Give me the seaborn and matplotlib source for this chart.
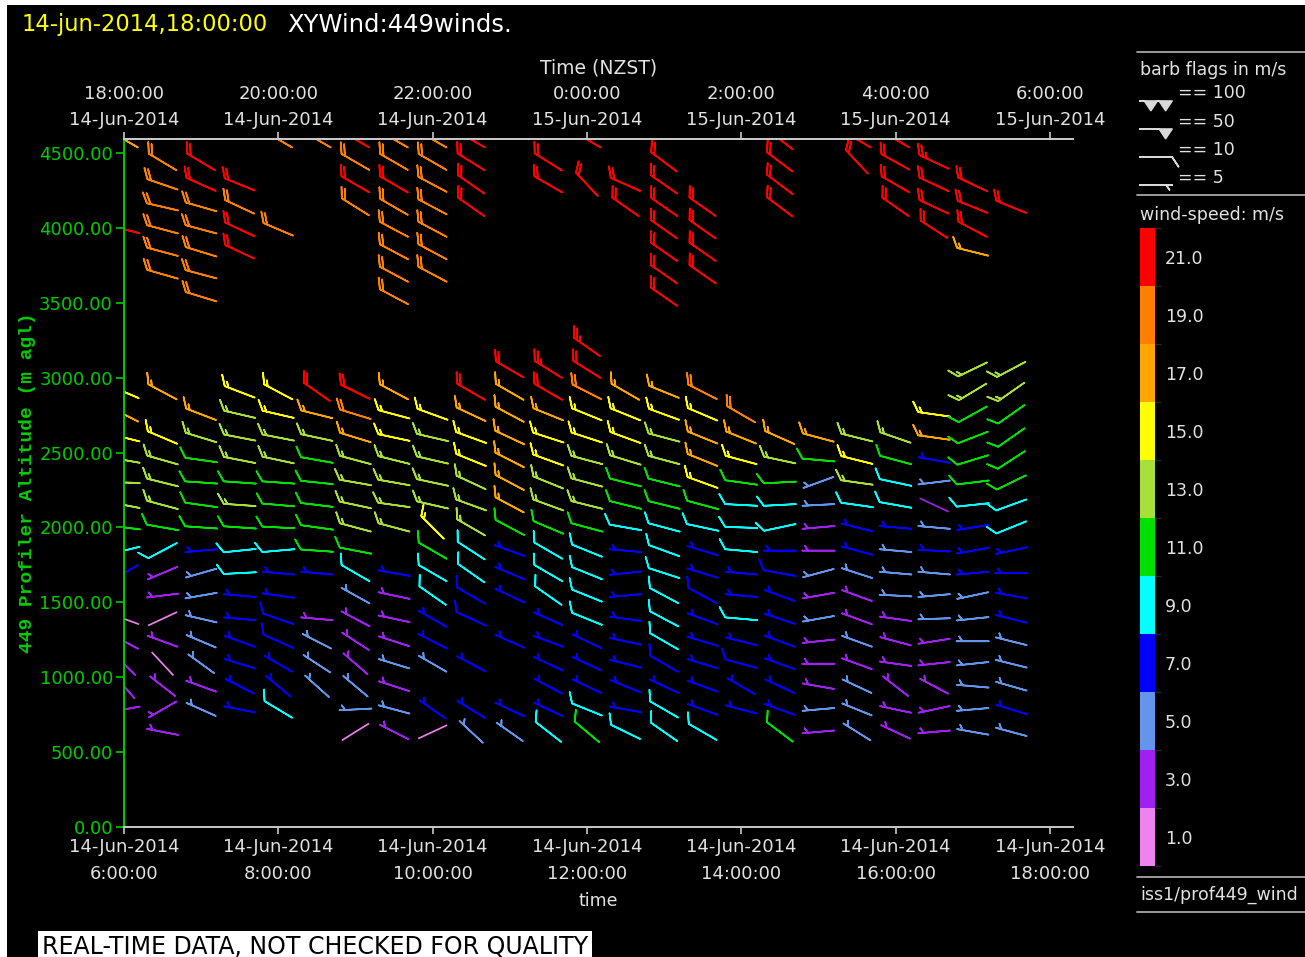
import numpy as np
import pandas as pd
import matplotlib
matplotlib.use("Agg")
import matplotlib.pyplot as plt
import seaborn as sns
from matplotlib.colors import ListedColormap, BoundaryNorm
from matplotlib.lines import Line2D
from matplotlib.patches import Rectangle
from matplotlib.cm import ScalarMappable

# ---------------------------------------------------------------------------
# 449 MHz profiler winds, 14-Jun-2014 (hours of day, local time)
# ---------------------------------------------------------------------------
times = [6.0, 6.5, 7.0, 7.5, 8.0, 8.5, 9.0, 9.5, 10.0, 10.5, 11.0, 11.5,
         12.0, 12.5, 13.0, 13.5, 14.0, 14.5, 15.0, 15.5, 16.0, 16.5, 17.0, 17.5]

# each profile: (altitude m agl, speed m/s, direction deg)
c0600 = [(785, 3, 260), (940, 3, 319), (1090, 3, 315), (1240, 3, 298), (1390, 1.5, 290),
         (1695, 7, 240), (1845, 9, 256), (2000, 11, 277), (2150, 13, 281), (2300, 13, 272),
         (2450, 13, 280), (2600, 15, 284), (2755, 17, 297), (2905, 15, 293),
         (3990, 21, 284), (4590, 17, 300)]
c0630 = [(635, 3, 281), (785, 3, 240), (940, 3, 308), (1090, 1.5, 317), (1240, 3, 290),
         (1390, 1.5, 245), (1545, 3, 263), (1695, 3, 247), (1845, 9, 242), (2000, 11, 280),
         (2150, 13, 285), (2300, 13, 284), (2450, 13, 286), (2600, 15, 293), (2905, 17, 298),
         (3690, 18.5, 286), (3840, 18.5, 285), (3990, 18.5, 285), (4140, 18.5, 283),
         (4290, 18.5, 289), (4440, 18.5, 301)]
c0700 = [(785, 5, 294), (940, 3, 290), (1090, 5, 306), (1240, 5, 293), (1390, 5, 283),
         (1545, 5, 260), (1695, 5, 254), (1845, 7, 265), (2000, 11, 274), (2150, 11, 278),
         (2300, 11, 274), (2450, 11, 278), (2600, 13, 287), (2755, 17, 291),
         (3540, 18.5, 287), (3690, 18.5, 285), (3840, 18.5, 287), (3990, 18.5, 285),
         (4140, 18.5, 286), (4290, 21, 294), (4440, 21, 301)]
c0730 = [(785, 7, 281), (940, 7, 297), (1090, 7, 287), (1240, 7, 290), (1390, 7, 275),
         (1545, 7, 275), (1695, 9, 267), (1845, 9, 264), (2000, 11, 274), (2150, 13, 274),
         (2300, 11, 274), (2450, 13, 281), (2600, 13, 281), (2755, 13, 283), (2905, 15, 291),
         (3840, 21, 295), (3990, 21, 295), (4140, 18.5, 295), (4290, 21, 292)]
c0800 = [(785, 9, 301), (940, 7, 310), (1090, 7, 300), (1240, 7.8, 294), (1390, 7.8, 289),
         (1545, 7, 278), (1695, 7, 275), (1845, 9, 265), (2000, 11, 273), (2150, 11, 275),
         (2300, 11, 274), (2450, 13, 282), (2600, 13, 281), (2755, 15, 283), (2905, 15, 298),
         (3990, 18.5, 293), (4590, 18.5, 300)]
c0830 = [(940, 5, 312), (1090, 5, 303), (1240, 5, 297), (1390, 3, 275),
         (1695, 7, 275), (1845, 11, 274), (2000, 11, 278), (2150, 11, 277), (2300, 11, 276),
         (2450, 11, 280), (2600, 13, 282), (2755, 17, 284), (2905, 21, 305),
         (4590, 18.5, 300)]
c0900 = [(635, 1.5, 238), (785, 5, 267), (940, 5, 310), (1090, 3, 311), (1240, 3, 303),
         (1390, 3, 298), (1545, 5, 299), (1695, 9, 300), (1845, 11, 281), (2000, 13, 285),
         (2150, 13, 282), (2300, 13, 280), (2450, 13, 285), (2600, 17, 287), (2755, 18.5, 287),
         (2905, 21, 296),
         (4140, 18.5, 302), (4290, 21, 300), (4440, 18.5, 300), (4590, 21, 300)]
c0930 = [(635, 3, 297), (785, 5, 285), (940, 3, 288), (1090, 5, 287), (1240, 3, 288),
         (1390, 3, 282), (1545, 3, 282), (1695, 7, 280), (2000, 13, 285), (2150, 13, 278),
         (2300, 13, 280), (2450, 13, 284), (2600, 15, 282), (2755, 15, 285), (2905, 17, 298),
         (3540, 18.5, 298), (3690, 18.5, 298), (3840, 18.5, 298), (3990, 18.5, 298),
         (4140, 18.5, 300), (4290, 21, 300), (4440, 18.5, 300), (4590, 18.5, 300)]
c1000 = [(635, 1.5, 245), (785, 7, 305), (1090, 5, 300), (1240, 7, 297), (1390, 7, 300),
         (1545, 9, 305), (1695, 9, 300), (1845, 11, 300), (2000, 15, 315), (2150, 13, 283),
         (2300, 13, 282), (2450, 13, 283), (2600, 13, 283), (2755, 15, 290),
         (3690, 18.5, 298), (3840, 18.5, 298), (3990, 18.5, 298), (4140, 18.5, 298),
         (4290, 18.5, 298), (4440, 18.5, 300), (4590, 18.5, 300)]
c1030 = [(635, 5, 313), (785, 7, 302), (1090, 7, 298), (1390, 7.8, 295), (1545, 7.8, 300),
         (1695, 9, 305), (1845, 9, 303), (2000, 13, 300), (2150, 13, 290), (2300, 13, 295),
         (2450, 15, 292), (2600, 15, 290), (2755, 17, 295), (2905, 21, 300),
         (4140, 21, 305), (4290, 21, 305), (4440, 21, 302), (4590, 21, 300)]
c1100 = [(635, 5, 305), (785, 7, 295), (1240, 7, 294), (1545, 7, 295),
         (1695, 7, 293), (1845, 7, 290), (2000, 11, 298), (2150, 17, 298), (2300, 17, 298),
         (2450, 17, 297), (2600, 17, 295), (2755, 17, 298), (2905, 17, 300), (3055, 21, 300)]
c1130 = [(635, 9, 308), (785, 7, 295), (940, 7, 298), (1090, 7, 295), (1240, 7, 290),
         (1390, 7, 294), (1545, 9, 305), (1695, 9, 300), (1845, 9, 300), (2000, 11, 293),
         (2150, 13, 290), (2300, 13, 292), (2450, 15, 290), (2600, 15, 288), (2755, 17, 292),
         (2905, 21, 300), (3055, 23, 302),
         (4290, 21, 300), (4440, 21, 302)]
c1200 = [(635, 11, 310), (785, 9, 292), (940, 7, 295), (1090, 7, 295), (1240, 7, 295),
         (1390, 9, 292), (1545, 9, 292), (1695, 9, 292), (1845, 9, 292), (2000, 11, 285),
         (2150, 13, 284), (2300, 13, 285), (2450, 13, 285), (2600, 15, 288), (2755, 15, 292),
         (2905, 18.5, 297), (3055, 21, 302), (3205, 23, 305),
         (4290, 21, 317), (4590, 21, 300)]
c1230 = [(635, 9, 296), (785, 7, 280), (940, 7, 292), (1090, 7, 284), (1240, 7, 282),
         (1390, 7, 278), (1545, 7, 265), (1695, 7, 264), (1845, 7, 275), (2000, 9, 280),
         (2150, 11, 284), (2300, 11, 284), (2450, 13, 287), (2600, 15, 290), (2755, 15, 292),
         (2905, 17, 300),
         (4140, 21, 305), (4290, 21, 294)]
c1300 = [(635, 9, 305), (785, 9, 300), (940, 7, 295), (1090, 7.8, 300), (1240, 9, 300),
         (1390, 9, 298), (1545, 9, 298), (1695, 9, 288), (1845, 9, 290), (2000, 9, 285),
         (2150, 11, 284), (2300, 11, 284), (2450, 13, 285), (2600, 13, 285), (2755, 15, 290),
         (2905, 17, 292),
         (3540, 21, 305), (3690, 21, 305), (3840, 21, 305), (3990, 21, 305), (4140, 21, 305),
         (4290, 21, 305), (4440, 21, 307)]
c1330 = [(635, 9, 300), (785, 7, 290), (940, 7, 290), (1090, 7, 287), (1240, 7, 287),
         (1390, 7, 290), (1545, 7.8, 298), (1695, 7, 287), (1845, 7, 287), (2000, 9, 282),
         (2150, 11, 285), (2300, 15, 290), (2450, 17, 292), (2600, 17, 292), (2755, 15, 293),
         (2905, 18.5, 297),
         (3690, 21, 305), (3840, 21, 305), (3990, 21, 305), (4140, 21, 305)]
c1400 = [(785, 7, 285), (940, 7, 300), (1090, 7.8, 285), (1240, 7, 284), (1390, 9, 275),
         (1545, 7, 275), (1695, 7, 275), (1845, 9, 275), (2000, 9, 272), (2150, 9, 273),
         (2300, 11, 278), (2450, 15, 285), (2600, 17, 292), (2755, 18.5, 300)]
c1430 = [(635, 11, 307), (785, 7, 290), (940, 7, 295), (1090, 7, 290), (1240, 7, 290),
         (1390, 7, 288), (1545, 7, 290), (1695, 7.8, 280), (1845, 7, 270), (2000, 9, 258),
         (2150, 9, 267), (2300, 11, 267), (2450, 13, 282), (2600, 17, 294),
         (4140, 21, 307), (4290, 21, 307), (4440, 21, 307), (4590, 21, 307)]
c1500 = [(635, 3, 265), (785, 5, 265), (940, 3, 280), (1090, 3, 270), (1240, 3, 264),
         (1390, 5, 260), (1545, 3, 260), (1695, 5, 255), (1845, 3, 270), (2000, 3, 265),
         (2150, 5, 267), (2300, 5, 250), (2450, 11, 275), (2600, 17, 285)]
c1530 = [(635, 5, 302), (785, 5, 292), (940, 5, 295), (1090, 3, 290), (1240, 5, 290),
         (1390, 3, 290), (1545, 3, 290), (1695, 5, 288), (1845, 7, 285), (2000, 7, 284),
         (2150, 9, 278), (2300, 13, 278), (2450, 15, 284), (2600, 13, 284),
         (4440, 21, 317), (4590, 21, 300)]
c1600 = [(635, 3, 295), (785, 3, 282), (940, 3, 308), (1090, 3, 278), (1240, 3, 285),
         (1390, 3, 278), (1545, 5, 273), (1695, 5, 275), (1845, 5, 275), (2000, 7, 275),
         (2150, 9, 280), (2300, 9, 282), (2450, 11, 285), (2600, 13, 289),
         (4140, 21, 305), (4290, 21, 300), (4440, 21, 299), (4590, 21, 300)]
c1630 = [(635, 3, 265), (785, 3, 258), (940, 3, 298), (1090, 3, 264), (1240, 3, 261),
         (1390, 5, 268), (1545, 5, 265), (1695, 5, 275), (1845, 7, 273), (2000, 5, 275),
         (2150, 2.2, 295), (2300, 5, 263), (2450, 7, 280), (2600, 17, 278), (2755, 15, 278),
         (3990, 21, 303), (4140, 21, 295), (4290, 21, 295), (4440, 23, 295)]
c1700 = [(635, 5, 280), (785, 5, 265), (940, 5, 275), (1090, 5, 264), (1240, 5, 270),
         (1390, 5, 264), (1545, 5, 258), (1695, 7, 265), (1845, 7, 260), (2000, 7, 261),
         (2150, 9, 264), (2300, 11, 263), (2450, 11, 253), (2600, 11, 249), (2755, 11, 241),
         (2905, 13, 239), (3055, 13, 244),
         (3840, 17, 284), (3990, 21, 298), (4140, 21, 292), (4290, 21, 295)]
c1730 = [(635, 5, 285), (785, 7, 287), (940, 5, 286), (1090, 5, 284), (1240, 5, 284),
         (1390, 7, 284), (1545, 7, 280), (1695, 7, 270), (1845, 7, 258), (2000, 9, 248),
         (2150, 9, 250), (2300, 11, 244), (2450, 11, 237), (2600, 11, 235), (2755, 11, 235),
         (2905, 13, 235), (3055, 13, 242),
         (4140, 21, 292)]

profiles = [c0600, c0630, c0700, c0730, c0800, c0830, c0900, c0930, c1000, c1030,
            c1100, c1130, c1200, c1230, c1300, c1330, c1400, c1430, c1500, c1530,
            c1600, c1630, c1700, c1730]

# wind-speed colour classes (m/s)
speed_bounds = [0, 2, 4, 6, 8, 10, 12, 14, 16, 18, 20, 22]
speed_ticks = [1, 3, 5, 7, 9, 11, 13, 15, 17, 19, 21]
speed_colors = ["#EE82EE", "#A020F0", "#6495ED", "#0000FF", "#00FFFF", "#00E000",
                "#A8E03A", "#FFFF00", "#FFA500", "#FF8000", "#FF0000"]

alt_ticks = [0, 500, 1000, 1500, 2000, 2500, 3000, 3500, 4000, 4500]
time_ticks = [6, 8, 10, 12, 14, 16, 18]
bottom_labels = ["14-Jun-2014\n6:00:00", "14-Jun-2014\n8:00:00", "14-Jun-2014\n10:00:00",
                 "14-Jun-2014\n12:00:00", "14-Jun-2014\n14:00:00", "14-Jun-2014\n16:00:00",
                 "14-Jun-2014\n18:00:00"]
top_labels = ["18:00:00\n14-Jun-2014", "20:00:00\n14-Jun-2014", "22:00:00\n14-Jun-2014",
              "0:00:00\n15-Jun-2014", "2:00:00\n15-Jun-2014", "4:00:00\n15-Jun-2014",
              "6:00:00\n15-Jun-2014"]
flag_values = [100, 50, 10, 5]
flag_labels = ["== 100", "== 50", "== 10", "== 5"]

# ---------------------------------------------------------------------------
rows = [(t, h, s, d) for t, prof in zip(times, profiles) for (h, s, d) in prof]
df = pd.DataFrame(rows, columns=["time", "alt", "spd", "dir"])
rad = np.radians(df["dir"])
df["u"] = -df["spd"] * np.sin(rad)
df["v"] = -df["spd"] * np.cos(rad)
calm = df["spd"] < 2.5

sns.set_theme(style="dark")
plt.rcParams["font.family"] = ["DejaVu Sans"]

TXT = "#E2E2E2"
GREEN = "#00CC00"
AXGREY = "#C8C8C8"

cmap = ListedColormap(sns.color_palette(speed_colors, n_colors=len(speed_colors)))
norm = BoundaryNorm(speed_bounds, cmap.N, clip=True)

W, H = 1305, 957
fig = plt.figure(figsize=(W / 100, H / 100), dpi=100, facecolor="white")
fig.add_artist(Rectangle((7 / W, 0), 1, 1 - 5 / H, transform=fig.transFigure,
                         facecolor="black", edgecolor="none", zorder=-10))

L, R, B, T = 124, 1073, 827, 139
ax = fig.add_axes([L / W, 1 - B / H, (R - L) / W, (B - T) / H])
ax.set_facecolor("black")
ax.grid(False)

barb_sizes = dict(spacing=0.12, height=0.3, width=0.4, emptybarb=0.0)
windy = df[~calm]
ax.barbs(windy["time"], windy["alt"], windy["u"], windy["v"], windy["spd"],
         cmap=cmap, norm=norm, length=6.8, pivot="middle", linewidth=1.2,
         sizes=barb_sizes, rounding=True)
still = df[calm]
ax.quiver(still["time"], still["alt"], still["u"] / still["spd"], still["v"] / still["spd"],
          still["spd"], cmap=cmap, norm=norm, pivot="middle", headwidth=0, headlength=0,
          headaxislength=0, units="dots", width=1.7, scale_units="dots", scale=1 / 32)

ax.set_xlim(6.0, 18.3)
ax.set_ylim(0, 4593)
ax.set_yticks(alt_ticks, labels=[f"{v:.2f}" for v in alt_ticks])
ax.set_xticks(time_ticks, labels=bottom_labels)
ax.tick_params(axis="y", left=True, colors=GREEN, labelcolor=GREEN, labelsize=13,
               length=6, width=1.2, pad=2)
ax.tick_params(axis="x", bottom=True, colors=AXGREY, labelcolor=TXT, labelsize=13,
               length=5, width=1.2, pad=3)
ax.spines["right"].set_visible(False)
ax.spines["left"].set_color(GREEN)
ax.spines["bottom"].set_color(AXGREY)
ax.spines["top"].set_color(AXGREY)
for side in ["left", "bottom", "top"]:
    ax.spines[side].set_linewidth(1.4)
    ax.spines[side].set_visible(True)
ax.set_xlabel("time", color=TXT, fontsize=12.5, labelpad=7)
ax.set_ylabel("449 Profiler Altitude (m agl)", color=GREEN, fontsize=14,
              fontfamily="Liberation Mono", fontweight="bold")
ax.yaxis.set_label_coords(-0.093, 0.5)

top = ax.secondary_xaxis("top")
top.set_xticks(time_ticks, labels=top_labels)
top.tick_params(axis="x", top=True, labeltop=True, colors=AXGREY, labelcolor=TXT,
                labelsize=13, length=5, width=1.2, pad=2)
top.spines["top"].set_color(AXGREY)
top.spines["top"].set_linewidth(1.4)
top.set_xlabel("Time (NZST)", color=TXT, fontsize=13.5, labelpad=8)

for lab in list(ax.get_xticklabels()) + list(top.get_xticklabels()):
    lab.set_linespacing(1.6)

# colour key
cax = fig.add_axes([1140 / W, 1 - 866 / H, 15 / W, (866 - 228) / H])
cb = fig.colorbar(ScalarMappable(norm=norm, cmap=cmap), cax=cax, ticks=speed_ticks)
cb.outline.set_visible(False)
cax.grid(False)
cax.set_yticklabels([f"{v:.1f}" for v in speed_ticks])
cax.tick_params(axis="y", right=True, length=0, colors=TXT, labelsize=12.5, pad=7)

# barb flag key
leg = fig.add_axes([1137 / W, 1 - 195 / H, 168 / W, (195 - 60) / H])
leg.set_xlim(0, 168)
leg.set_ylim(135, 0)
leg.axis("off")
leg.barbs([19, 19, 19, 19], [41, 69, 97, 125], [-v for v in flag_values], [0, 0, 0, 0],
          length=6.8, pivot="middle", barbcolor="#D8D8D8", flagcolor="#D8D8D8",
          linewidth=1.2, sizes=barb_sizes)
for y, lab in zip([33, 62, 90, 118], flag_labels):
    leg.text(41, y, lab, color=TXT, fontsize=12.5, va="center", ha="left")

for y in [52, 195, 877, 912]:
    fig.add_artist(Line2D([1137 / W, 1.0], [1 - y / H, 1 - y / H], color="#A8A8A8",
                          linewidth=1.3, transform=fig.transFigure))

fig.text(22 / W, 1 - 25 / H, "14-jun-2014,18:00:00", color="#FFFF00", fontsize=16.3,
         va="center", ha="left")
fig.text(287 / W, 1 - 25 / H, "XYWind:449winds.", color="white", fontsize=17.5,
         va="center", ha="left")
fig.text(1140 / W, 1 - 70 / H, "barb flags in m/s", color=TXT, fontsize=12.5,
         va="center", ha="left")
fig.text(1140 / W, 1 - 215 / H, "wind-speed: m/s", color=TXT, fontsize=12.5,
         va="center", ha="left")
fig.text(1140 / W, 1 - 895 / H, "iss1/prof449_wind", color=TXT, fontsize=12.5,
         va="center", ha="left")
fig.text(42 / W, 1 - 947 / H, "REAL-TIME DATA, NOT CHECKED FOR QUALITY", color="black",
         fontsize=17, va="center", ha="left",
         bbox=dict(facecolor="white", edgecolor="none", pad=2.5))

fig.savefig("out.png", dpi=100, facecolor=fig.get_facecolor())
